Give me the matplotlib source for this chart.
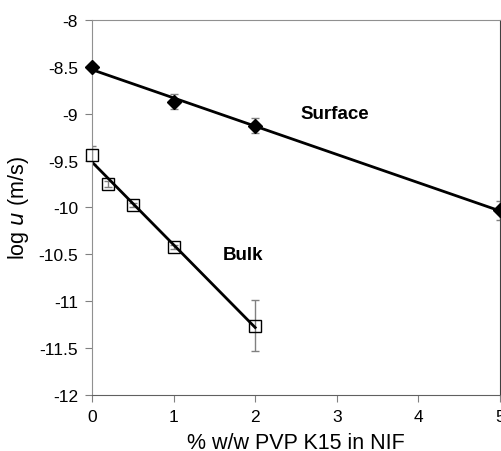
import numpy as np
import matplotlib
matplotlib.use("Agg")
import matplotlib.pyplot as plt

plt.rcParams['font.family'] = ['Liberation Sans', 'DejaVu Sans']

# data
surf_x = [0, 1, 2, 5]
surf_y = [-8.50, -8.87, -9.13, -10.03]
surf_err = [0.03, 0.08, 0.08, 0.10]

bulk_x = [0, 0.2, 0.5, 1, 2]
bulk_y = [-9.44, -9.75, -9.97, -10.42, -11.26]
bulk_err = [0.10, 0.03, 0.02, 0.02, 0.27]

fig = plt.figure(figsize=(5.01, 4.52), dpi=100)
ax = fig.add_axes([0.1836, 0.124, 0.8144, 0.8295])

# linear trendlines
for xs, ys in [(surf_x, surf_y), (bulk_x, bulk_y)]:
    p = np.polyfit(xs, ys, 1)
    xx = np.array([min(xs), max(xs)])
    ax.plot(xx, np.polyval(p, xx), color='black', lw=2, zorder=2)

ax.errorbar(surf_x, surf_y, yerr=surf_err, fmt='none', ecolor='#808080',
            elinewidth=1, capsize=3, zorder=1)
ax.errorbar(bulk_x, bulk_y, yerr=bulk_err, fmt='none', ecolor='#808080',
            elinewidth=1, capsize=3, zorder=1)
ax.plot(surf_x, surf_y, 'D', color='black', ms=7, zorder=3, clip_on=False)
ax.plot(bulk_x, bulk_y, 's', mfc='none', mec='black', mew=1, ms=9, zorder=3, clip_on=False)

ax.text(2.98, -9.0, 'Surface', fontsize=13.5, fontweight='bold', ha='center', va='center')
ax.text(1.85, -10.5, 'Bulk', fontsize=13.5, fontweight='bold', ha='center', va='center')

ax.set_xlim(0, 5)
ax.set_ylim(-12, -8)
ax.set_xticks(range(0, 6))
ax.set_yticks(np.arange(-12, -7.9, 0.5))
ax.set_yticklabels(['-12', '-11.5', '-11', '-10.5', '-10', '-9.5', '-9', '-8.5', '-8'])

for s in ['left', 'top']:
    ax.spines[s].set_color('#909090')
ax.spines['bottom'].set_color('#606060')
ax.spines['right'].set_color('#404040')
ax.tick_params(direction='out', length=5, color='#808080', labelsize=12.5, pad=5)

ax.set_xlabel('% w/w PVP K15 in NIF', fontsize=15.5, labelpad=6)
ax.set_ylabel('log $\\it{u}$ (m/s)', fontsize=15.5, labelpad=5)

fig.savefig('out.png', dpi=100)
